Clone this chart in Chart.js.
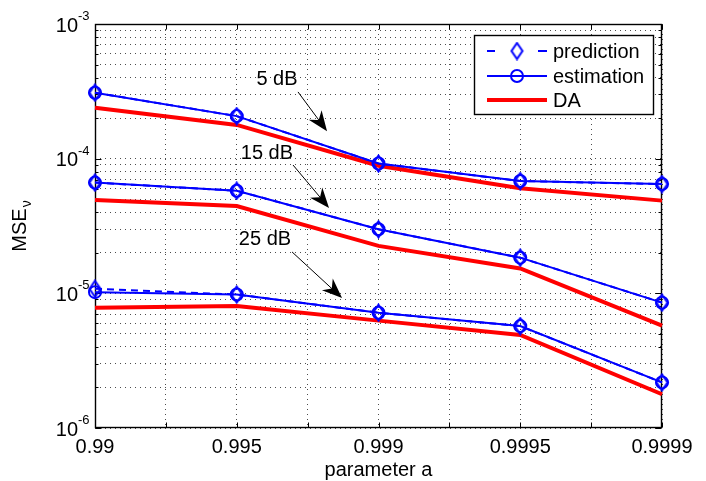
<!DOCTYPE html>
<html>
<head>
<meta charset="utf-8">
<script src="https://cdn.jsdelivr.net/npm/chart.js@4.4.1/dist/chart.umd.min.js"></script>
<style>
  html, body { margin: 0; padding: 0; background: #fff; }
  canvas { display: block; }
</style>
</head>
<body>
<canvas id="mseChart" width="706" height="481"></canvas>
<script>
// x categories (parameter a) and log-axis decades
const paramLabels = ['0.99', '0.995', '0.999', '0.9995', '0.9999'];
const yDecades = [-6, -5, -4, -3];
const snrLabels = ['5 dB', '15 dB', '25 dB'];

// MSE values, one array per curve
const prediction5  = [3.09e-4, 2.07e-4, 9.2e-5, 6.82e-5, 6.48e-5];
const estimation5  = [3.09e-4, 2.07e-4, 9.2e-5, 6.82e-5, 6.48e-5];
const da5          = [2.39e-4, 1.78e-4, 8.87e-5, 6.03e-5, 4.88e-5];

const prediction15 = [6.64e-5, 5.78e-5, 2.99e-5, 1.84e-5, 8.53e-6];
const estimation15 = [6.64e-5, 5.78e-5, 2.99e-5, 1.84e-5, 8.53e-6];
const da15         = [4.93e-5, 4.45e-5, 2.25e-5, 1.53e-5, 5.75e-6];

const prediction25 = [1.08e-5, 9.8e-6, 7.18e-6, 5.71e-6, 2.18e-6];
const estimation25 = [1.02e-5, 9.8e-6, 7.18e-6, 5.71e-6, 2.18e-6];
const da25         = [7.82e-6, 8.05e-6, 6.27e-6, 4.91e-6, 1.78e-6];

const FONT = '"Liberation Sans", Arial, Helvetica, sans-serif';
const BLUE = '#0000ff';
const RED = '#ff0000';
const GRID = 'rgba(0,0,0,0.7)';

// arrow annotations, placed in data coordinates (x = category index)
const notes = [
  {text: snrLabels[0], at: [1.284, 3.84e-4], from: [1.432, 3.13e-4], to: [1.637, 1.60e-4]},
  {text: snrLabels[1], at: [1.213, 1.10e-4], from: [1.397, 8.97e-5], to: [1.651, 4.31e-5]},
  {text: snrLabels[2], at: [1.199, 2.49e-5], from: [1.390, 2.03e-5], to: [1.743, 9.23e-6]}
];

const xTickValues = [];
for (let v = 0; v <= paramLabels.length - 1; v += 0.5) xTickValues.push(v);

const yTickValues = [];
yDecades.forEach((e, i) => {
  if (i === yDecades.length - 1) { yTickValues.push(Math.pow(10, e)); return; }
  for (let m = 1; m < 10; m++) yTickValues.push(m * Math.pow(10, e));
});
const isDecade = v => Math.abs(Math.log10(v) - Math.round(Math.log10(v))) < 1e-9;

function makeDiamond() {
  const c = document.createElement('canvas');
  c.width = 15; c.height = 19;
  const g = c.getContext('2d');
  g.strokeStyle = BLUE;
  g.lineWidth = 2;
  g.beginPath();
  g.moveTo(7.5, 1.5); g.lineTo(13, 9.5); g.lineTo(7.5, 17.5); g.lineTo(2, 9.5);
  g.closePath();
  g.stroke();
  return c;
}
const diamond = makeDiamond();

const toPoints = arr => arr.map((v, i) => ({x: i, y: v}));

function blueSeries(data, dashed) {
  return {
    data: toPoints(data),
    borderColor: BLUE,
    borderWidth: 2,
    borderDash: dashed ? [7, 5] : [],
    pointStyle: dashed ? diamond : 'circle',
    pointRadius: dashed ? 7 : 6,
    pointBorderWidth: 2,
    pointBorderColor: BLUE,
    pointBackgroundColor: 'rgba(0,0,0,0)',
    order: dashed ? 0 : 1,
    clip: false
  };
}
function daSeries(data) {
  return {
    data: toPoints(data),
    borderColor: RED,
    borderWidth: 4,
    pointRadius: 0,
    order: 2,
    clip: false
  };
}

const matlabLook = {
  id: 'matlabLook',
  beforeDatasetsDraw(chart) {
    const {ctx, chartArea: a, scales: {x, y}} = chart;
    const L = Math.round(a.left) + 0.5, R = Math.round(a.right) - 0.5;
    const T = Math.round(a.top) + 0.5, B = Math.round(a.bottom) - 0.5;
    ctx.save();
    ctx.strokeStyle = '#000';
    ctx.lineWidth = 1;
    ctx.beginPath();
    x.ticks.forEach(t => {
      const px = Math.round(x.getPixelForValue(t.value)) + 0.5;
      ctx.moveTo(px, B); ctx.lineTo(px, B - 5);
      ctx.moveTo(px, T); ctx.lineTo(px, T + 5);
    });
    y.ticks.forEach(t => {
      const py = Math.round(y.getPixelForValue(t.value)) + 0.5;
      const len = isDecade(t.value) ? 6 : 3;
      ctx.moveTo(L, py); ctx.lineTo(L + len, py);
      ctx.moveTo(R, py); ctx.lineTo(R - len, py);
    });
    ctx.stroke();
    ctx.lineWidth = 1.4;
    ctx.strokeRect(L, T, R - L, B - T);
    ctx.restore();
  },
  afterDraw(chart) {
    const {ctx, chartArea: a, scales: {x, y}} = chart;
    ctx.save();
    ctx.fillStyle = '#000';

    // y tick labels 10^e
    yDecades.forEach(e => {
      const py = y.getPixelForValue(Math.pow(10, e));
      ctx.font = `20px ${FONT}`;
      ctx.textAlign = 'right';
      ctx.textBaseline = 'alphabetic';
      ctx.fillText('10', 78, py + 7.5);
      ctx.font = `13px ${FONT}`;
      ctx.textAlign = 'left';
      ctx.fillText('-' + Math.abs(e), 78, py - 4);
    });

    // x tick labels
    ctx.font = `20px ${FONT}`;
    ctx.textAlign = 'center';
    paramLabels.forEach((lab, i) => ctx.fillText(lab, x.getPixelForValue(i), 453));
    ctx.fillText('parameter a', (a.left + a.right) / 2, 476);

    // y axis title MSE_nu
    ctx.save();
    ctx.translate(26, (a.top + a.bottom) / 2);
    ctx.rotate(-Math.PI / 2);
    ctx.font = `20px ${FONT}`;
    const w1 = ctx.measureText('MSE').width;
    ctx.font = `14px ${FONT}`;
    const w2 = ctx.measureText('\u03bd').width;
    const start = -(w1 + w2 + 1) / 2;
    ctx.textAlign = 'left';
    ctx.font = `20px ${FONT}`;
    ctx.fillText('MSE', start, 0);
    ctx.font = `14px ${FONT}`;
    ctx.fillText('\u03bd', start + w1 + 1, 5);
    ctx.restore();

    // annotations with arrows
    notes.forEach(n => {
      const tx = x.getPixelForValue(n.at[0]), ty = y.getPixelForValue(n.at[1]);
      ctx.font = `20px ${FONT}`;
      ctx.textAlign = 'center';
      ctx.textBaseline = 'middle';
      ctx.fillText(n.text, tx, ty);
      const x0 = x.getPixelForValue(n.from[0]), y0 = y.getPixelForValue(n.from[1]);
      const x1 = x.getPixelForValue(n.to[0]), y1 = y.getPixelForValue(n.to[1]);
      const ang = Math.atan2(y1 - y0, x1 - x0);
      const hl = 20, hw = 8, notch = 6;
      ctx.strokeStyle = '#000';
      ctx.lineWidth = 1;
      ctx.beginPath();
      ctx.moveTo(x0, y0);
      ctx.lineTo(x1 - Math.cos(ang) * notch, y1 - Math.sin(ang) * notch);
      ctx.stroke();
      ctx.save();
      ctx.translate(x1, y1);
      ctx.rotate(ang);
      ctx.beginPath();
      ctx.moveTo(0, 0);
      ctx.lineTo(-hl, -hw);
      ctx.lineTo(-hl + notch, 0);
      ctx.lineTo(-hl, hw);
      ctx.closePath();
      ctx.fill();
      ctx.restore();
    });

    // legend
    const bx = 474.5, by = 35.5, bw = 179, bh = 79;
    ctx.fillStyle = '#fff';
    ctx.fillRect(bx, by, bw, bh);
    ctx.strokeStyle = '#000';
    ctx.lineWidth = 1.4;
    ctx.strokeRect(bx, by, bw, bh);
    const rows = [51, 76, 100];
    const names = ['prediction', 'estimation', 'DA'];
    ctx.lineCap = 'butt';
    // prediction
    ctx.strokeStyle = BLUE;
    ctx.lineWidth = 2;
    ctx.beginPath();
    ctx.moveTo(487, rows[0]); ctx.lineTo(495, rows[0]);
    ctx.moveTo(538, rows[0]); ctx.lineTo(547, rows[0]);
    ctx.stroke();
    ctx.drawImage(diamond, 517 - diamond.width / 2, rows[0] - diamond.height / 2);
    // estimation
    ctx.beginPath();
    ctx.moveTo(487, rows[1]); ctx.lineTo(547, rows[1]);
    ctx.stroke();
    ctx.beginPath();
    ctx.arc(517, rows[1], 6, 0, Math.PI * 2);
    ctx.stroke();
    // DA
    ctx.strokeStyle = RED;
    ctx.lineWidth = 4;
    ctx.beginPath();
    ctx.moveTo(487, rows[2]); ctx.lineTo(547, rows[2]);
    ctx.stroke();
    ctx.fillStyle = '#000';
    ctx.font = `20px ${FONT}`;
    ctx.textAlign = 'left';
    ctx.textBaseline = 'middle';
    names.forEach((nm, i) => ctx.fillText(nm, 553, rows[i] + 1));
    ctx.restore();
  }
};

new Chart(document.getElementById('mseChart'), {
  type: 'line',
  data: {
    datasets: [
      blueSeries(prediction5, true), blueSeries(estimation5, false), daSeries(da5),
      blueSeries(prediction15, true), blueSeries(estimation15, false), daSeries(da15),
      blueSeries(prediction25, true), blueSeries(estimation25, false), daSeries(da25)
    ]
  },
  options: {
    responsive: false,
    animation: false,
    layout: {padding: {left: 95, right: 44, top: 24, bottom: 53}},
    plugins: {legend: {display: false}, tooltip: {enabled: false}},
    scales: {
      x: {
        type: 'linear',
        min: 0,
        max: paramLabels.length - 1,
        afterBuildTicks: s => { s.ticks = xTickValues.map(v => ({value: v})); },
        ticks: {display: false},
        grid: {color: GRID, lineWidth: 1, drawTicks: false},
        border: {display: false, dash: [1, 4]}
      },
      y: {
        type: 'logarithmic',
        min: Math.pow(10, yDecades[0]),
        max: Math.pow(10, yDecades[yDecades.length - 1]),
        afterBuildTicks: s => { s.ticks = yTickValues.map(v => ({value: v})); },
        ticks: {display: false},
        grid: {color: GRID, lineWidth: 1, drawTicks: false},
        border: {display: false, dash: [1, 4]}
      }
    }
  },
  plugins: [matlabLook]
});
</script>
</body>
</html>
